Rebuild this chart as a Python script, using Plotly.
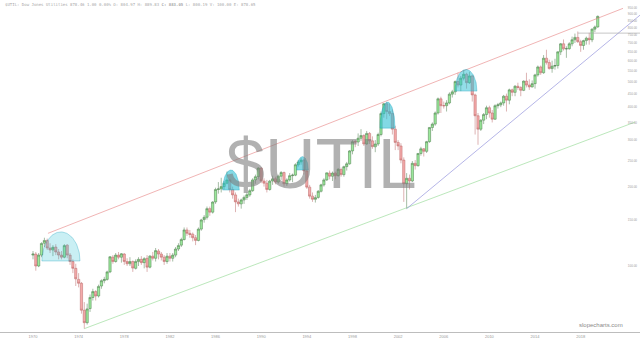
import numpy as np
import pandas as pd
import plotly.graph_objects as go

# ---------------- data: quarterly OHLC, 1970Q1 .. 2019Q3 ----------------
OPEN = [
    110, 111, 100, 110,   122, 125, 117, 115,   118, 113, 110, 108,   120, 110, 104, 98,
    89, 86, 68, 61,       69, 76, 80, 77,       84, 88, 89, 95,       108, 104, 110, 108,
    111, 104, 102, 104,   98, 104, 106, 103,    107, 99, 109, 107,    114, 111, 108, 104,
    109, 107, 110, 116,   120, 126, 137, 133,   132, 128, 125, 138,   150, 153, 165, 160,
    175, 195, 196, 200,   206, 212, 195, 186,   175, 172, 178, 182,   186, 193, 212, 218,
    235, 210, 206, 195,   210, 214, 208, 219,   226, 205, 212, 220,   221, 242, 248, 252,
    229, 199, 184, 179,   182, 192, 203, 212,   225, 219, 225, 220,   232, 222, 238, 244,
    273, 296, 295, 305,   312, 290, 318, 298,   283, 290, 315, 378,   412, 385, 378, 330,
    294, 285, 252, 205,   215, 210, 245, 240,   267, 278, 272, 296,   335, 345, 380, 430,
    405, 405, 415, 448,   457, 500, 485, 515,   533, 495, 525, 445,   371, 330, 357, 375,
    398, 380, 360, 405,   408, 415, 440, 425,   465, 455, 480, 475,   463, 502, 485, 477,
    491, 530, 568, 540,   613, 590, 560, 572,   575, 648, 695, 665,   666, 695, 720, 735,
    708, 685, 715, 730,   720, 790, 805,
]
HIGH = [
    114, 113, 112, 123,   128, 127, 122, 120,   121, 116, 114, 121,   121, 112, 106, 102,
    94, 87, 73, 72,       78, 82, 81, 85,       89, 91, 96, 109,      110, 112, 113, 112,
    112, 107, 108, 105,   106, 108, 109, 108,   110, 110, 113, 117,   116, 113, 110, 112,
    112, 112, 118, 122,   128, 140, 140, 137,   134, 131, 140, 151,   156, 168, 168, 176,
    198, 208, 216, 210,   228, 214, 200, 190,   180, 180, 185, 190,   196, 215, 222, 237,
    237, 215, 212, 212,   220, 218, 222, 229,   228, 215, 225, 224,   245, 252, 256.5, 254,
    232, 203, 190, 186,   194, 205, 215, 226,   230, 228, 228, 235,   236, 240, 248, 275,
    300, 300, 318, 330,   316, 325, 322, 310,   300, 320, 385, 415,   418, 412, 392, 340,
    300, 292, 258, 225,   222, 250, 252, 268,   283, 280, 298, 336,   350, 385, 435, 438,
    420, 425, 455, 465,   505, 540, 525, 552,   540, 545, 530, 450,   380, 360, 380, 405,
    405, 390, 410, 415,   420, 445, 450, 470,   470, 485, 495, 480,   505, 540, 510, 505,
    535, 575, 575, 630,   660, 605, 600, 610,   650, 700, 722, 680,   705, 740, 760, 774,
    720, 720, 740, 765,   795, 815, 890,
]
LOW = [
    106, 96, 99, 108,     118, 115, 112, 109,   110, 106, 106, 107,   107, 101, 94, 84,
    83, 66, 57.9, 60,     67, 74, 74, 76,       82, 86, 88, 94,       102, 103, 106, 103,
    101, 100, 100, 95,    97, 100, 101, 98,     95, 98, 105, 104,     106, 105, 101, 102,
    104, 104, 108, 114,   118, 125, 130, 128,   124, 120, 124, 136,   146, 150, 155, 158,
    172, 188, 190, 195,   204, 190, 180, 160,   168, 165, 172, 178,   183, 191, 205, 213,
    206, 200, 190, 193,   203, 204, 205, 212,   200, 201, 209, 208,   219, 238, 242, 222,
    196, 180, 175, 174,   180, 190, 200, 210,   213, 210, 213, 218,   218, 218, 230, 242,
    265, 282, 285, 298,   285, 288, 290, 278,   270, 285, 310, 365,   360, 370, 315, 275,
    275, 245, 175, 165,   195, 208, 232, 238,   262, 260, 268, 293,   325, 340, 375, 380,
    395, 385, 410, 435,   445, 475, 460, 505,   470, 490, 420, 315,   288, 325, 345, 360,
    365, 350, 358, 395,   400, 405, 385, 410,   440, 440, 465, 440,   460, 475, 465, 475,
    470, 522, 530, 535,   580, 555, 540, 555,   560, 630, 655, 615,   660, 680, 700, 700,
    648, 660, 690, 690,   705, 770, 800,
]
CLOSE = [
    111, 100, 110, 121.8, 125, 117, 115, 117.8, 113, 110, 108, 119.5, 110, 104, 98, 89.4,
    86, 68, 61, 68.8,     76, 80, 77, 83.7,     88, 89, 95, 108.4,    104, 110, 108, 111.3,
    104, 102, 104, 98.2,  104, 106, 103, 106.6, 99, 109, 107, 114.4,  111, 108, 104, 109,
    107, 110, 116, 119.5, 126, 137, 133, 131.8, 128, 125, 138, 149.5, 153, 165, 160, 174.8,
    195, 196, 200, 206,   212, 195, 186, 175,   172, 178, 182, 186.3, 193, 212, 218, 235,
    210, 206, 195, 209.7, 214, 208, 219, 226,   205, 212, 220, 221,   242, 248, 252, 229.3,
    199, 184, 179, 181.5, 192, 203, 212, 225.4, 219, 225, 220, 232.5, 222, 238, 244, 273,
    296, 295, 305, 312.3, 290, 318, 298, 283.4, 290, 315, 378, 412,   385, 378, 330, 294,
    285, 252, 205, 215,   210, 245, 240, 267,   278, 272, 296, 335,   345, 380, 430, 405,
    405, 415, 448, 457,   500, 485, 515, 533,   495, 525, 445, 371,   330, 357, 375, 398,
    380, 360, 405, 408,   415, 440, 425, 465,   455, 480, 475, 463,   502, 485, 477, 491,
    530, 568, 540, 613,   590, 560, 572, 575,   648, 695, 665, 666,   695, 720, 735, 708,
    685, 715, 730, 720,   790, 805, 883,
]
FIRST_QUARTER = "1970-01-01"

X_TICK_YEARS = [1970, 1974, 1978, 1982, 1986, 1990, 1994, 1998, 2002, 2006, 2010, 2014, 2018]
Y_TICKS = [100, 150, 200, 250, 300, 350, 400, 450, 500, 550, 600, 650, 700, 750, 800, 850, 900, 950]

# ---------------- annotations (drawn studies) ----------------
# domes: centre (decimal year), base value, half width (years), height (log10 units)
DOME_CENTER = [1972.45, 1987.35, 1993.62, 2001.07, 2007.95]
DOME_BASE = [104.5, 194, 231, 333, 460]
DOME_HALFWIDTH = [1.67, 0.73, 0.51, 0.66, 0.96]
DOME_HEIGHT = [0.110, 0.076, 0.051, 0.099, 0.082]
DOME_ALPHA = [0.25, 0.58, 0.58, 0.58, 0.5]

# trend lines: (start year, start value, end year, end value, colour)
TRENDLINES = [
    (1971.31, 133, 2021.71, 947, "rgba(228,120,120,0.8)"),
    (1974.50, 57.9, 2022.76, 351, "rgba(140,215,140,0.85)"),
    (2002.75, 165, 2023.30, 900, "rgba(130,130,215,0.85)"),
    (2017.75, 763, 2023.30, 763, "rgba(165,165,165,0.9)"),
]

X_RANGE_YEARS = (1967.108, 2023.199)
Y_RANGE_LOG = (1.750, 3.008)


def yr(y):
    return pd.Timestamp("1970-01-01") + pd.to_timedelta((y - 1970) * 365.25, unit="D")


dates = pd.date_range(FIRST_QUARTER, periods=len(CLOSE), freq="QS")

fig = go.Figure()

fig.add_trace(go.Candlestick(
    x=dates, open=OPEN, high=HIGH, low=LOW, close=CLOSE,
    increasing=dict(fillcolor="#9be99b", line=dict(color="#4a7a4a", width=0.5)),
    decreasing=dict(fillcolor="#f4aaaa", line=dict(color="#bb6666", width=0.5)),
    whiskerwidth=0, hoverinfo="skip", showlegend=False,
))

for (x0, v0, x1, v1, col) in TRENDLINES:
    fig.add_trace(go.Scatter(x=[yr(x0), yr(x1)], y=[v0, v1], mode="lines",
                             line=dict(color=col, width=0.7), hoverinfo="skip",
                             showlegend=False))

t = np.linspace(0, np.pi, 60)
for cx, base, hw, h, a in zip(DOME_CENTER, DOME_BASE, DOME_HALFWIDTH, DOME_HEIGHT, DOME_ALPHA):
    xs = [yr(cx + hw * np.cos(tt)) for tt in t]
    ys = [10 ** (np.log10(base) + h * np.sin(tt)) for tt in t]
    xs.append(xs[0]); ys.append(ys[0])
    fig.add_trace(go.Scatter(x=xs, y=ys, mode="lines", fill="toself",
                             fillcolor=f"rgba(40,190,210,{a})",
                             line=dict(color="rgba(0,150,180,0.5)", width=0.6),
                             hoverinfo="skip", showlegend=False))

fig.add_annotation(text="$UTIL", xref="paper", yref="paper", x=0.502, y=0.506,
                   xanchor="center", yanchor="middle", showarrow=False,
                   font=dict(family="Liberation Sans", size=70, color="rgba(125,125,125,0.6)"))
fig.add_annotation(text="slopecharts.com", xref="paper", yref="paper", x=0.977, y=0.021,
                   xanchor="right", yanchor="middle", showarrow=False,
                   font=dict(family="Liberation Sans", size=6, color="#8a8a8a"))
fig.add_annotation(
    text="$UTIL: Dow Jones Utilities 878.46 1.00 0.00% O: 804.97 H: 889.83 <b>C: 883.05</b> L: 800.19 V: 100.00 E: 878.65",
    xref="paper", yref="paper", x=0.004, y=0.985, xanchor="left", yanchor="middle",
    showarrow=False, font=dict(family="DejaVu Sans Mono", size=4, color="#a8a8a8"))

fig.update_layout(
    width=640, height=341, autosize=False,
    margin=dict(l=0, r=0, t=0, b=9),
    paper_bgcolor="white", plot_bgcolor="white",
    font=dict(family="Liberation Sans"),
    showlegend=False,
    boxgap=0.1, boxgroupgap=0.1,
    xaxis=dict(
        type="date", range=[yr(X_RANGE_YEARS[0]), yr(X_RANGE_YEARS[1])],
        rangeslider=dict(visible=False), showgrid=False, zeroline=False,
        showline=True, linecolor="#bdbdbd", linewidth=1, ticks="",
        tickvals=[pd.Timestamp(f"{y}-01-01") for y in X_TICK_YEARS],
        ticktext=[str(y) for y in X_TICK_YEARS],
        tickfont=dict(size=4, color="#999999"),
    ),
    yaxis=dict(
        type="log", range=list(Y_RANGE_LOG), side="right", ticklabelposition="inside",
        showgrid=False, zeroline=False, showline=False, ticks="",
        tickvals=Y_TICKS, ticktext=[f"{v:.2f}" for v in Y_TICKS],
        tickfont=dict(size=3, color="#999999"),
    ),
)

fig.write_html("out.html")
